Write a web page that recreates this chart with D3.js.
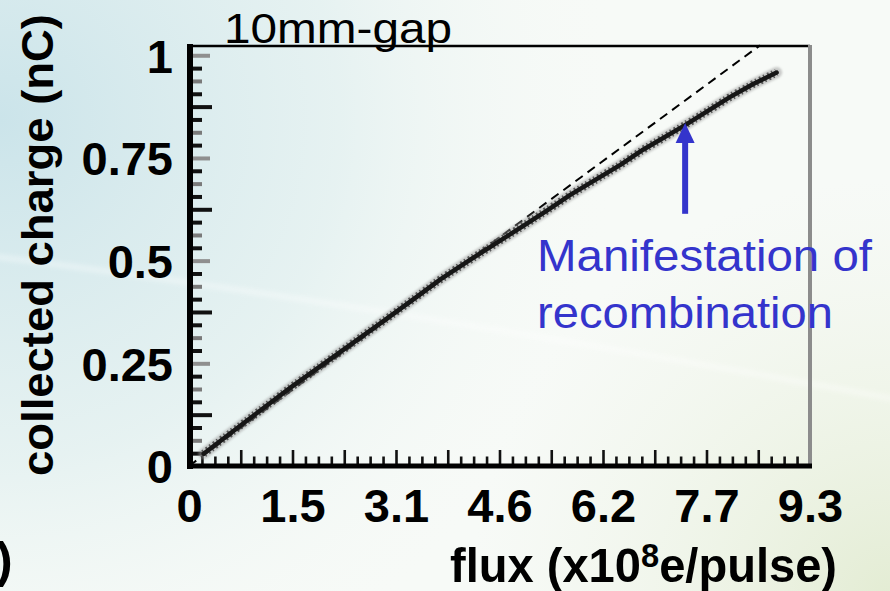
<!DOCTYPE html>
<html>
<head>
<meta charset="utf-8">
<script src="https://cdn.jsdelivr.net/npm/d3@7"></script>
<style>
  html, body { margin: 0; padding: 0; background: #f5f9f5; }
  svg { display: block; }
  text { font-family: "Liberation Sans", Arial, Helvetica, sans-serif; }
</style>
</head>
<body>
<script>
// Measured collected charge versus beam flux (10mm gap)
const fluxValues   = [0.22, 0.88, 1.53, 2.20, 2.87, 3.42, 3.77, 4.22, 4.96, 5.36, 5.71, 6.46, 6.80, 7.43, 8.10, 8.45, 8.80];
const chargeValues = [0.030, 0.112, 0.192, 0.270, 0.348, 0.413, 0.455, 0.503, 0.580, 0.622, 0.660, 0.733, 0.770, 0.830, 0.898, 0.930, 0.958];

// Linear (no recombination) reference line
const linearFlux   = [0, 8.55];
const linearCharge = [0, 1.024];

// Axis ticks
const xTickValues = [0, 1.55, 3.1, 4.65, 6.2, 7.75, 9.3];
const xTickLabels = ["0", "1.5", "3.1", "4.6", "6.2", "7.7", "9.3"];
const yTickValues = [0, 0.25, 0.5, 0.75, 1];
const yTickLabels = ["0", "0.25", "0.5", "0.75", "1"];

// Annotation arrow (flux position, charge from / to)
const arrowFlux = 7.43;
const arrowCharge = [0.614, 0.835];

const W = 890, H = 591;
const svg = d3.select("body").append("svg").attr("width", W).attr("height", H);
const defs = svg.append("defs");

// slide background
const bgBlue = defs.append("radialGradient").attr("id", "bgBlue")
  .attr("gradientUnits", "userSpaceOnUse").attr("cx", 0).attr("cy", 120).attr("r", 620);
bgBlue.append("stop").attr("offset", 0).attr("stop-color", "#cbe4ea").attr("stop-opacity", 1);
bgBlue.append("stop").attr("offset", 0.55).attr("stop-color", "#e2f0f0").attr("stop-opacity", 0.8);
bgBlue.append("stop").attr("offset", 1).attr("stop-color", "#f6faf6").attr("stop-opacity", 0);

const bgGreen = defs.append("radialGradient").attr("id", "bgGreen")
  .attr("gradientUnits", "userSpaceOnUse").attr("cx", 890).attr("cy", 600).attr("r", 420);
bgGreen.append("stop").attr("offset", 0).attr("stop-color", "#e3ecd3").attr("stop-opacity", 1);
bgGreen.append("stop").attr("offset", 1).attr("stop-color", "#eef4e6").attr("stop-opacity", 0);

defs.append("filter").attr("id", "soft").append("feGaussianBlur").attr("stdDeviation", 2.5);
defs.append("filter").attr("id", "halo").append("feGaussianBlur").attr("stdDeviation", 1.2);

svg.append("rect").attr("width", W).attr("height", H).attr("fill", "#f7faf7");
svg.append("rect").attr("width", W).attr("height", H).attr("fill", "url(#bgGreen)");
svg.append("rect").attr("width", W).attr("height", H).attr("fill", "url(#bgBlue)");
svg.append("path")
  .attr("d", "M-10,256 C200,282 520,330 900,400")
  .attr("fill", "none").attr("stroke", "#ffffff").attr("stroke-width", 5)
  .attr("opacity", 0.4).attr("filter", "url(#soft)");

// scales
const x = d3.scaleLinear().domain([0, 9.3]).range([189, 810]);
const y = d3.scaleLinear().domain([0, 1.025]).range([466, 45]);

// frame: top (black) and right (grey)
svg.append("line").attr("x1", x(0) - 2).attr("x2", x(9.3)).attr("y1", y(1.025) + 1).attr("y2", y(1.025) + 1)
  .attr("stroke", "#000").attr("stroke-width", 2.6);
svg.append("line").attr("x1", x(9.3)).attr("x2", x(9.3)).attr("y1", y(1.025)).attr("y2", y(0) - 2)
  .attr("stroke", "#8c8c8c").attr("stroke-width", 4);

// x minor / major tick marks (pointing into the plot)
const xStep = 9.3 / 48;
const xShort = d3.range(1, 48).filter(k => k % 4 !== 0).map(k => k * xStep);
const xLong = d3.range(1, 48).filter(k => k % 4 === 0).map(k => k * xStep);
[[xShort, 9.5], [xLong, 16]].forEach(([vals, len]) => {
  const g = svg.append("g").attr("transform", `translate(0,${y(0)})`)
    .call(d3.axisTop(x).tickValues(vals).tickSize(len).tickFormat(""));
  g.select(".domain").remove();
  g.selectAll(".tick line").attr("stroke", "#111").attr("stroke-width", 2.6);
});

// y tick marks (pointing into the plot)
const yStep = 1 / 32;
const yGroups = [
  [d3.range(1, 33).filter(k => k % 2 === 1).map(k => k * yStep), 13, "#111"],
  [d3.range(1, 33).filter(k => k % 8 === 2 || k % 8 === 6).map(k => k * yStep), 13, "#7a7a7a"],
  [d3.range(1, 33).filter(k => k % 8 === 4).map(k => k * yStep), 23, "#111"],
  [d3.range(1, 33).filter(k => k % 8 === 0).map(k => k * yStep), 21, "#8f8f8f"]
];
yGroups.forEach(([vals, len, col]) => {
  const g = svg.append("g").attr("transform", `translate(${x(0)},0)`)
    .call(d3.axisRight(y).tickValues(vals).tickSize(len).tickFormat(""));
  g.select(".domain").remove();
  g.selectAll(".tick line").attr("stroke", col).attr("stroke-width", 4);
});

// axis lines
svg.append("line").attr("x1", x(0) + 1).attr("x2", x(0) + 1).attr("y1", y(1.025) - 1).attr("y2", y(0) + 3)
  .attr("stroke", "#000").attr("stroke-width", 6);
svg.append("line").attr("x1", x(0) - 2).attr("x2", x(9.3) + 2).attr("y1", y(0)).attr("y2", y(0))
  .attr("stroke", "#000").attr("stroke-width", 5);

// tick labels
const xAxis = svg.append("g").attr("transform", `translate(0,${y(0)})`)
  .call(d3.axisBottom(x).tickValues(xTickValues).tickSize(0).tickFormat((d, i) => xTickLabels[i]));
xAxis.select(".domain").remove();
xAxis.selectAll("text").attr("y", 56).attr("dy", 0)
  .attr("font-family", "'Liberation Sans', Arial, sans-serif")
  .attr("font-size", 47).attr("font-weight", "bold").attr("fill", "#000");

const yAxis = svg.append("g").attr("transform", `translate(${x(0)},0)`)
  .call(d3.axisLeft(y).tickValues(yTickValues).tickSize(0).tickPadding(16).tickFormat((d, i) => yTickLabels[i]));
yAxis.select(".domain").remove();
yAxis.selectAll("text").attr("dy", "0.36em")
  .attr("font-family", "'Liberation Sans', Arial, sans-serif")
  .attr("font-size", 47).attr("font-weight", "bold").attr("fill", "#000");

// linear reference (dashed)
const linePts = linearFlux.map((f, i) => [f, linearCharge[i]]);
svg.append("path")
  .attr("d", d3.line().x(d => x(d[0])).y(d => y(d[1]))(linePts))
  .attr("fill", "none").attr("stroke", "#000").attr("stroke-width", 2)
  .attr("stroke-dasharray", "9,6");

// measured band: soft grey fringe, ragged edge, dark core
const dataPts = fluxValues.map((f, i) => [f, chargeValues[i]]);
const dataLine = d3.line().x(d => x(d[0])).y(d => y(d[1]));
svg.append("path").attr("d", dataLine(dataPts))
  .attr("fill", "none").attr("stroke", "#9a9a9a").attr("stroke-width", 11)
  .attr("stroke-linecap", "round").attr("opacity", 0.5).attr("filter", "url(#halo)");
svg.append("path").attr("d", dataLine(dataPts))
  .attr("fill", "none").attr("stroke", "#333").attr("stroke-width", 8)
  .attr("stroke-dasharray", "1.5,3,2,2.5").attr("opacity", 0.75);
svg.append("path").attr("d", dataLine(dataPts))
  .attr("fill", "none").attr("stroke", "#161616").attr("stroke-width", 4.5)
  .attr("stroke-linecap", "round").attr("stroke-linejoin", "round");

// title
svg.append("text").attr("x", 224).attr("y", 43)
  .attr("font-size", 42).attr("fill", "#000")
  .attr("textLength", 228).attr("lengthAdjust", "spacingAndGlyphs")
  .text("10mm-gap");

// y axis title
svg.append("text")
  .attr("transform", "translate(53,245) rotate(-90)")
  .attr("text-anchor", "middle")
  .attr("font-size", 45).attr("font-weight", "bold").attr("fill", "#000")
  .attr("textLength", 462).attr("lengthAdjust", "spacingAndGlyphs")
  .text("collected charge (nC)");

// x axis title
const xt = svg.append("text")
  .attr("x", 450).attr("y", 582)
  .attr("font-size", 49).attr("font-weight", "bold").attr("fill", "#000")
  .attr("textLength", 387).attr("lengthAdjust", "spacingAndGlyphs");
xt.append("tspan").text("flux (x10");
xt.append("tspan").attr("font-size", 34).attr("dy", -15).text("8");
xt.append("tspan").attr("dy", 15).text("e/pulse)");

// bracket at the lower left edge
svg.append("text").attr("x", -4).attr("y", 577)
  .attr("font-size", 50).attr("font-weight", "bold").attr("fill", "#000").text(")");

// annotation
const blue = "#3434cc";
const ax = x(arrowFlux);
svg.append("line").attr("x1", ax).attr("x2", ax)
  .attr("y1", y(arrowCharge[0])).attr("y2", y(arrowCharge[1]) + 18)
  .attr("stroke", blue).attr("stroke-width", 6);
svg.append("path")
  .attr("d", `M${ax},${y(arrowCharge[1])} L${ax - 9.5},${y(arrowCharge[1]) + 20} L${ax + 9.5},${y(arrowCharge[1]) + 20} Z`)
  .attr("fill", blue);

svg.append("text").attr("x", 537).attr("y", 271)
  .attr("font-size", 45).attr("fill", blue)
  .attr("textLength", 335).attr("lengthAdjust", "spacingAndGlyphs")
  .text("Manifestation of");
svg.append("text").attr("x", 537).attr("y", 328)
  .attr("font-size", 45).attr("fill", blue)
  .attr("textLength", 296).attr("lengthAdjust", "spacingAndGlyphs")
  .text("recombination");
</script>
</body>
</html>
